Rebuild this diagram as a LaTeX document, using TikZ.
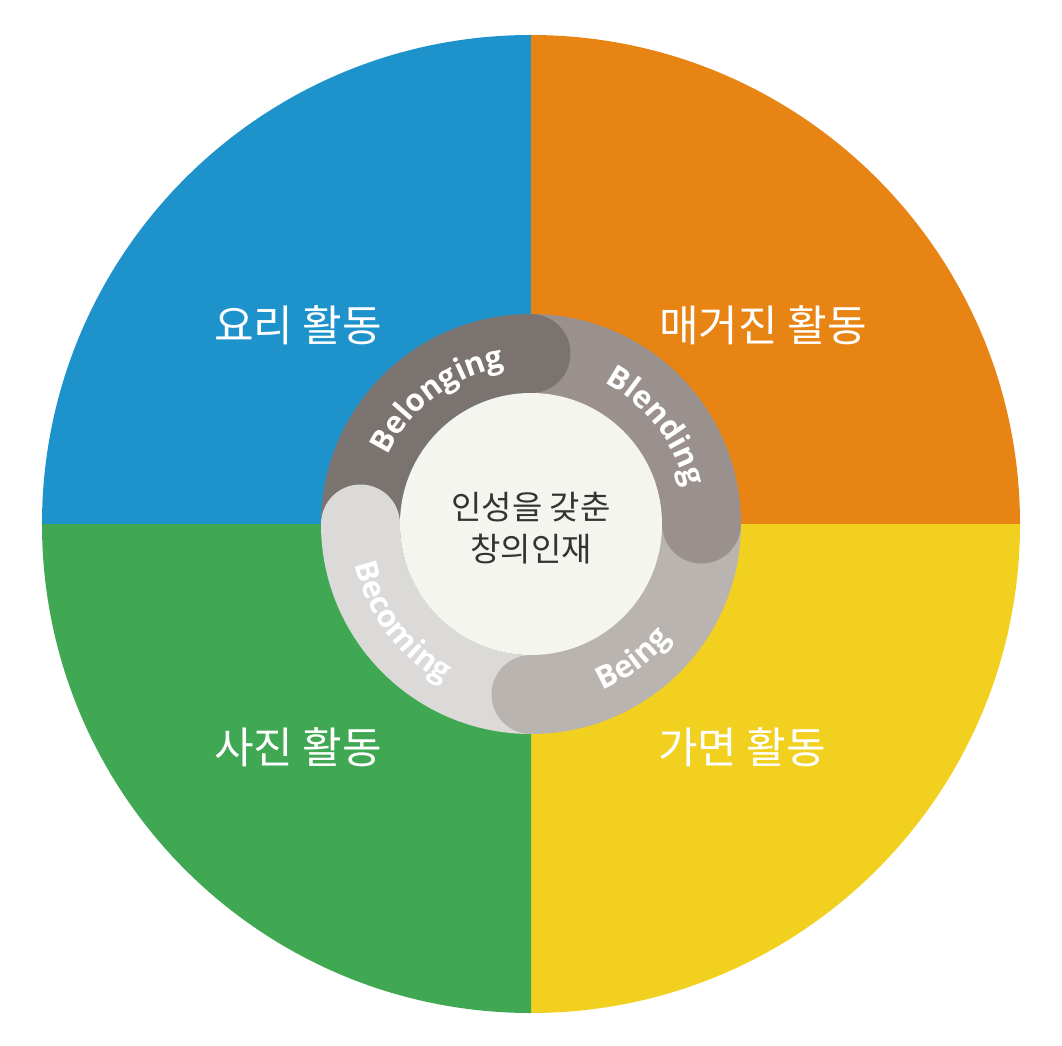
\documentclass[tikz,border=0pt]{standalone}
\usepackage{fontspec}
\usepackage{tikz}
\usetikzlibrary{decorations.text}

\newfontfamily\krfont{Noto Sans CJK KR}
\newfontfamily\ringfont{Open Sans}

\definecolor{qblue}{HTML}{1E93CB}
\definecolor{qorange}{HTML}{E78414}
\definecolor{qyellow}{HTML}{F2D020}
\definecolor{qgreen}{HTML}{40A853}
\definecolor{rbelong}{HTML}{7A736F}
\definecolor{rblend}{HTML}{9A918E}
\definecolor{rbeing}{HTML}{B9B4B0}
\definecolor{rbecome}{HTML}{DCDAD8}
\definecolor{core}{HTML}{F5F5F0}
\definecolor{coretext}{HTML}{333333}

\newcommand{\ringlbl}{\ringfont\bfseries\fontsize{31}{31}\selectfont}

\begin{document}
\begin{tikzpicture}[x=1pt,y=1pt,
	quad/.style={text=white,font=\krfont\fontsize{43}{43}\selectfont},
	ringtext/.style={decorate,decoration={text along path,text={|\ringlbl|#1},text align=center,text color=white}}]
	
	\useasboundingbox (-531,-521) rectangle (531,524);
	
	% four activity quadrants
	\fill[qblue] (0,0) -- (180:489) arc[start angle=180,end angle=90,radius=489] -- cycle;
	\fill[qorange] (0,0) -- (90:489) arc[start angle=90,end angle=0,radius=489] -- cycle;
	\fill[qyellow] (0,0) -- (0:489) arc[start angle=0,end angle=-90,radius=489] -- cycle;
	\fill[qgreen] (0,0) -- (-90:489) arc[start angle=-90,end angle=-180,radius=489] -- cycle;
	
	\node[quad] (cook) at (-233,199) {요리 활동};
	\node[quad] (mag) at (232,199) {매거진 활동};
	\node[quad] (photo) at (-233,-223) {사진 활동};
	\node[quad] (mask) at (211,-223) {가면 활동};
	
	% ring segments
	\fill[rbelong] (180:131) -- (180:210) arc[start angle=180,end angle=90,radius=210] -- (90:131) arc[start angle=90,end angle=180,radius=131] -- cycle;
	\fill[rblend] (90:131) -- (90:210) arc[start angle=90,end angle=0,radius=210] -- (0:131) arc[start angle=0,end angle=90,radius=131] -- cycle;
	\fill[rbeing] (0:131) -- (0:210) arc[start angle=0,end angle=-90,radius=210] -- (-90:131) arc[start angle=-90,end angle=0,radius=131] -- cycle;
	\fill[rbecome] (-90:131) -- (-90:210) arc[start angle=-90,end angle=-180,radius=210] -- (-180:131) arc[start angle=-180,end angle=-90,radius=131] -- cycle;
	
	% round ends
	\fill[rbelong] (90:170.5) circle (39.5);
	\fill[rblend] (0:170.5) circle (39.5);
	\fill[rbeing] (-90:170.5) circle (39.5);
	\fill[rbecome] (180:170.5) circle (39.5);
	
	\path[ringtext=Belonging] (167:159) arc[start angle=167,end angle=87,radius=159];
	\path[ringtext=Blending] (78:159) arc[start angle=78,end angle=-2,radius=159];
	\path[ringtext=Being] (-88:181) arc[start angle=-88,end angle=-18,radius=181];
	\path[ringtext=Becoming] (-183:181) arc[start angle=-183,end angle=-103,radius=181];
	
	% centre
	\fill[core] (0,0) circle (131);
	\node[text=coretext,align=center,font=\krfont\fontsize{33}{42}\selectfont] (goal) at (0,-4) {인성을 갖춘\\창의인재};
	
\end{tikzpicture}
\end{document}
